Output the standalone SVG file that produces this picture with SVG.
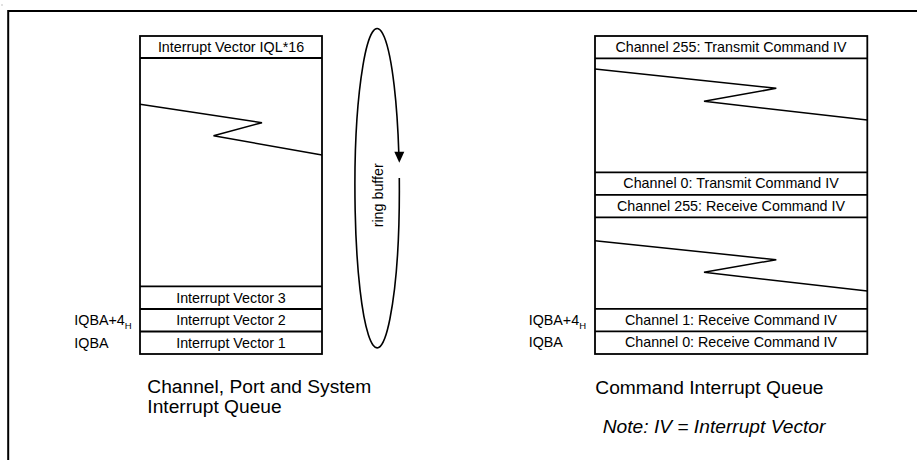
<svg xmlns="http://www.w3.org/2000/svg" width="917" height="460" viewBox="0 0 917 460">
<style>
.box{fill:none;stroke:#000;stroke-width:1.8}
.sep{fill:none;stroke:#000;stroke-width:1.8}
.zig{fill:none;stroke:#000;stroke-width:1.5;stroke-linejoin:miter}
.t{font-family:"Liberation Sans",Arial,sans-serif;font-size:14.3px;fill:#000}
.c{text-anchor:middle}
.sub{font-size:9.5px}
.cap{font-family:"Liberation Sans",Arial,sans-serif;font-size:19.2px;fill:#000}
.it{font-style:italic}
</style>
<rect x="0" y="0" width="917" height="460" fill="#fff"/>
<rect x="1.5" y="4.5" width="1" height="1" fill="#888"/>
<g id="frame">
<path d="M8.2 460 V11 H917" fill="none" stroke="#000" stroke-width="2"/>
</g>
<g id="left-queue">
<rect class="box" x="140" y="36" width="182" height="318"/>
<path class="sep" d="M140 58H322M140 286.3H322M140 309H322M140 331.5H322"/>
<polyline class="zig" points="140,104.3 262,122.7 213.5,135.7 322,155"/>
<text class="t c" x="231" y="52.3">Interrupt Vector IQL*16</text>
<text class="t c" x="231" y="302.6">Interrupt Vector 3</text>
<text class="t c" x="231" y="325.3">Interrupt Vector 2</text>
<text class="t c" x="231" y="347.7">Interrupt Vector 1</text>
</g>
<g id="left-labels">
<text class="t" x="74.3" y="325.3">IQBA+4<tspan class="sub" dy="4">H</tspan></text>
<text class="t" x="74.3" y="347.7">IQBA</text>
</g>
<g id="right-queue">
<rect class="box" x="595" y="36" width="272.3" height="318"/>
<path class="sep" d="M595 58.3H867.3M595 172.3H867.3M595 194.8H867.3M595 217.3H867.3M595 308.8H867.3M595 331.3H867.3"/>
<polyline class="zig" points="595,69 776.3,88.3 704,101.3 867.3,120"/>
<polyline class="zig" points="595,240.7 776.3,259.7 704,272.3 867.3,291"/>
<text class="t c" x="731" y="52.3">Channel 255: Transmit Command IV</text>
<text class="t c" x="731" y="188.3">Channel 0: Transmit Command IV</text>
<text class="t c" x="731" y="210.9">Channel 255: Receive Command IV</text>
<text class="t c" x="731" y="324.9">Channel 1: Receive Command IV</text>
<text class="t c" x="731" y="347.4">Channel 0: Receive Command IV</text>
</g>
<g id="right-labels">
<text class="t" x="528.7" y="324.9">IQBA+4<tspan class="sub" dy="4">H</tspan></text>
<text class="t" x="528.7" y="347.4">IQBA</text>
</g>
<g id="connectors">
<path d="M399.3 178 A22.2 159.7 0 1 1 398.8 153" fill="none" stroke="#000" stroke-width="1.6"/>
<polygon points="394.3,151.8 404.3,151.8 399.3,162.8" fill="#000"/>
</g>
<g id="ring-buffer-label">
<text class="t c" transform="translate(383.3,195.3) rotate(-90)">ring buffer</text>
</g>
<g id="captions">
<text class="cap" x="147.3" y="393.3">Channel, Port and System</text>
<text class="cap" x="147.3" y="413">Interrupt Queue</text>
<text class="cap" x="595.3" y="393.8">Command Interrupt Queue</text>
<text class="cap it" x="602.7" y="433.3">Note: IV = Interrupt Vector</text>
</g>
</svg>
